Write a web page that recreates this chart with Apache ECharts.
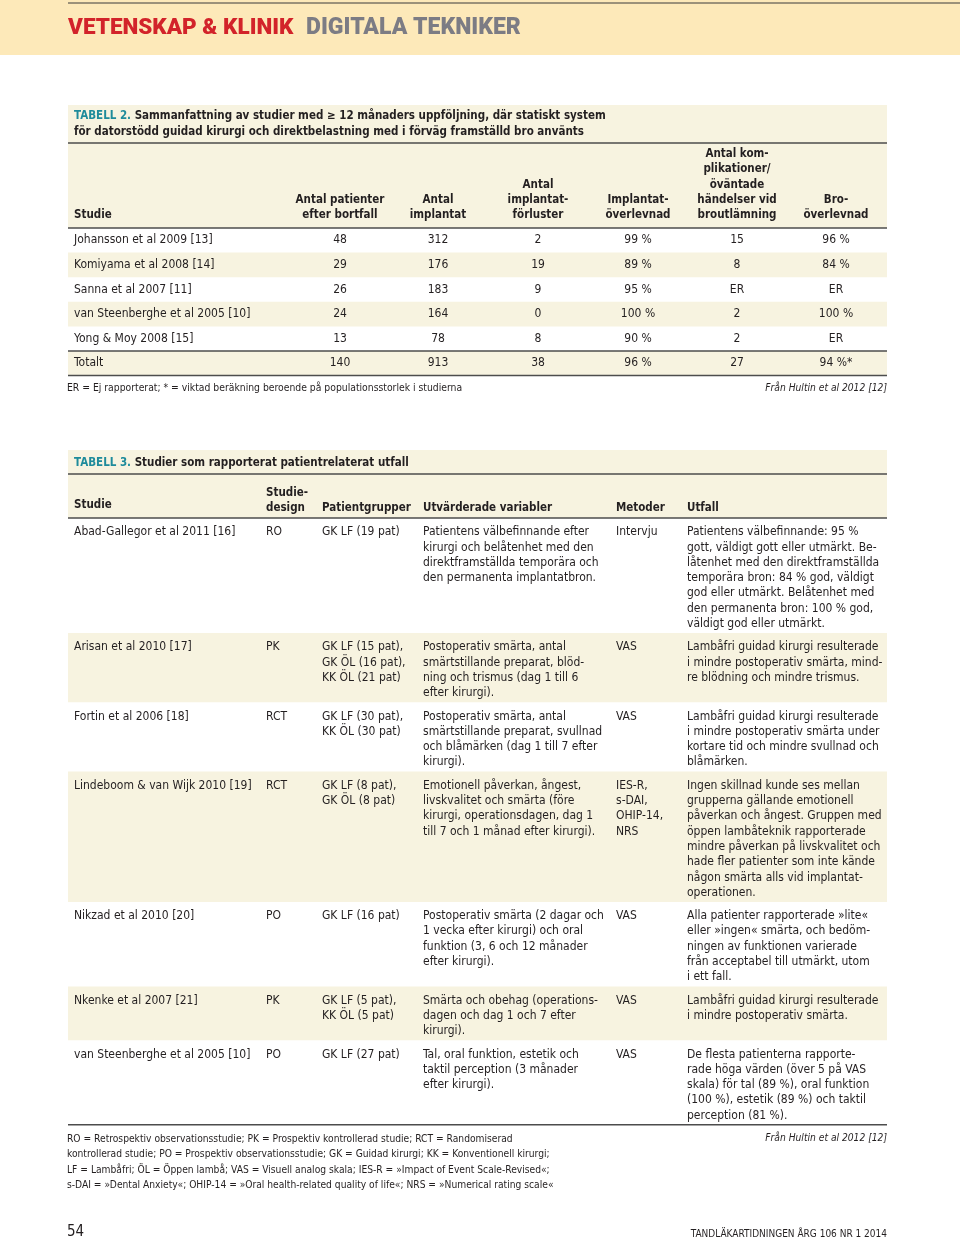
<!DOCTYPE html>
<html>
<head>
<meta charset="utf-8">
<script src="https://cdn.jsdelivr.net/npm/echarts@6/dist/echarts.min.js"></script>
<style>
  html, body { margin: 0; padding: 0; background: #fff; }
  #main { width: 960px; height: 1239px; }
</style>
</head>
<body>
<div id="main"></div>
<script>
// ---- Tabell 2 ----
const headers2 = ['Studie', 'Antal patienter\nefter bortfall', 'Antal\nimplantat', 'Antal\nimplantat-\nförluster',
  'Implantat-\növerlevnad', 'Antal kom-\nplikationer/\növäntade\nhändelser vid\nbroutlämning', 'Bro-\növerlevnad'];
const studies2 = ['Johansson et al 2009 [13]', 'Komiyama et al 2008 [14]', 'Sanna et al 2007 [11]',
  'van Steenberghe et al 2005 [10]', 'Yong & Moy 2008 [15]'];
const patients = [48, 29, 26, 24, 13];
const implants = [312, 176, 183, 164, 78];
const losses = [2, 19, 9, 0, 8];
const implantSurvival = ['99 %', '89 %', '95 %', '100 %', '90 %'];
const complications = ['15', '8', 'ER', '2', '2'];
const bridgeSurvival = ['96 %', '84 %', 'ER', '100 %', 'ER'];
const totals2 = ['Totalt', '140', '913', '38', '96 %', '27', '94 %*'];

// ---- Tabell 3 ----
const headers3 = ['Studie', 'Studie-\ndesign', 'Patientgrupper', 'Utvärderade variabler', 'Metoder', 'Utfall'];
const studies3 = ['Abad-Gallegor et al 2011 [16]', 'Arisan et al 2010 [17]', 'Fortin et al 2006 [18]',
  'Lindeboom & van Wijk 2010 [19]', 'Nikzad et al 2010 [20]', 'Nkenke et al 2007 [21]', 'van Steenberghe et al 2005 [10]'];
const designs = ['RO', 'PK', 'RCT', 'RCT', 'PO', 'PK', 'PO'];
const groups = ['GK LF (19 pat)', 'GK LF (15 pat),\nGK ÖL (16 pat),\nKK ÖL (21 pat)', 'GK LF (30 pat),\nKK ÖL (30 pat)',
  'GK LF (8 pat),\nGK ÖL (8 pat)', 'GK LF (16 pat)', 'GK LF (5 pat),\nKK ÖL (5 pat)', 'GK LF (27 pat)'];
const variables = [
  'Patientens välbefinnande efter\nkirurgi och belåtenhet med den\ndirektframställda temporära och\nden permanenta implantatbron.',
  'Postoperativ smärta, antal\nsmärtstillande preparat, blöd-\nning och trismus (dag 1 till 6\nefter kirurgi).',
  'Postoperativ smärta, antal\nsmärtstillande preparat, svullnad\noch blåmärken (dag 1 till 7 efter\nkirurgi).',
  'Emotionell påverkan, ångest,\nlivskvalitet och smärta (före\nkirurgi, operationsdagen, dag 1\ntill 7 och 1 månad efter kirurgi).',
  'Postoperativ smärta (2 dagar och\n1 vecka efter kirurgi) och oral\nfunktion (3, 6 och 12 månader\nefter kirurgi).',
  'Smärta och obehag (operations-\ndagen och dag 1 och 7 efter\nkirurgi).',
  'Tal, oral funktion, estetik och\ntaktil perception (3 månader\nefter kirurgi).'
];
const methods = ['Intervju', 'VAS', 'VAS', 'IES-R,\ns-DAI,\nOHIP-14,\nNRS', 'VAS', 'VAS', 'VAS'];
const outcomes = [
  'Patientens välbefinnande: 95 %\ngott, väldigt gott eller utmärkt. Be-\nlåtenhet med den direktframställda\ntemporära bron: 84 % god, väldigt\ngod eller utmärkt. Belåtenhet med\nden permanenta bron: 100 % god,\nväldigt god eller utmärkt.',
  'Lambåfri guidad kirurgi resulterade\ni mindre postoperativ smärta, mind-\nre blödning och mindre trismus.',
  'Lambåfri guidad kirurgi resulterade\ni mindre postoperativ smärta under\nkortare tid och mindre svullnad och\nblåmärken.',
  'Ingen skillnad kunde ses mellan\ngrupperna gällande emotionell\npåverkan och ångest. Gruppen med\nöppen lambåteknik rapporterade\nmindre påverkan på livskvalitet och\nhade fler patienter som inte kände\nnågon smärta alls vid implantat-\noperationen.',
  'Alla patienter rapporterade »lite«\neller »ingen« smärta, och bedöm-\nningen av funktionen varierade\nfrån acceptabel till utmärkt, utom\ni ett fall.',
  'Lambåfri guidad kirurgi resulterade\ni mindre postoperativ smärta.',
  'De flesta patienterna rapporte-\nrade höga värden (över 5 på VAS\nskala) för tal (89 %), oral funktion\n(100 %), estetik (89 %) och taktil\nperception (81 %).'
];
const footnotes3 = [
  'RO = Retrospektiv observationsstudie; PK = Prospektiv kontrollerad studie; RCT = Randomiserad',
  'kontrollerad studie; PO = Prospektiv observationsstudie; GK = Guidad kirurgi; KK = Konventionell kirurgi;',
  'LF = Lambåfri; ÖL = Öppen lambå; VAS = Visuell analog skala; IES-R = »Impact of Event Scale-Revised«;',
  's-DAI = »Dental Anxiety«; OHIP-14 = »Oral health-related quality of life«; NRS = »Numerical rating scale«'
];

const FONT = "'Liberation Sans Narrow','DejaVu Sans Condensed','Liberation Sans',sans-serif";
const BOLD = 'bold 11.5px ' + FONT;
const INK = '#231f20';
const CREAM = '#f7f3e0';
const LINE = '#4d4d4d';
const L = 68, R = 887;

let g = [];
function rect(x, y, w, h, fill) {
  g.push({ type: 'rect', silent: true, shape: { x: x, y: y, width: w, height: h }, style: { fill: fill } });
}
function hline(y, x1, x2, w, c) {
  g.push({ type: 'line', silent: true, shape: { x1: x1 || L, y1: y, x2: x2 || R, y2: y },
    style: { stroke: c || LINE, lineWidth: w || 1.5 } });
}
function text(x, y, s, opt) {
  opt = opt || {};
  g.push({ type: 'text', silent: true, x: x, y: y, style: Object.assign({
    text: s, fill: INK, font: '12px ' + FONT, align: 'left', verticalAlign: 'middle', lineHeight: 15.3
  }, opt) });
}

// page header
rect(0, 0, 960, 55, '#fde9b9');
hline(3, 68, 960, 1, '#3a3a3a');
text(68, 28, 'VETENSKAP & KLINIK', { fill: '#d2232a', font: '900 22.5px Roboto, sans-serif' });
text(306, 28, 'DIGITALA TEKNIKER', { fill: '#7c7c84', font: '900 23px Roboto, sans-serif' });

// ---- Tabell 2 layout ----
const cols2 = [74, 340, 438, 538, 638, 737, 836];
rect(L, 105, R - L, 123, CREAM);
text(74, 124, '{t|TABELL 2.} Sammanfattning av studier med ≥ 12 månaders uppföljning, där statiskt system\nför datorstödd guidad kirurgi och direktbelastning med i förväg framställd bro använts', {
  font: BOLD,
  rich: { t: { fill: '#1e8b9b', font: BOLD } }
});
hline(143);
headers2.forEach(function (h, i) {
  text(cols2[i], 223, h, { font: BOLD, align: i === 0 ? 'left' : 'center', verticalAlign: 'bottom' });
});
hline(228);
const rowH2 = 24.6;
const rows2 = studies2.map(function (s, i) {
  return [s, String(patients[i]), String(implants[i]), String(losses[i]), implantSurvival[i], complications[i], bridgeSurvival[i]];
});
rows2.push(totals2);
rows2.forEach(function (row, r) {
  const top = 228 + r * rowH2;
  if (r % 2 === 1) rect(L, top, R - L, rowH2, CREAM);
  row.forEach(function (v, i) {
    text(cols2[i], top + rowH2 / 2, v, { align: i === 0 ? 'left' : 'center' });
  });
});
hline(228 + 5 * rowH2);
hline(228 + 6 * rowH2);
text(67, 388, 'ER = Ej rapporterat; * = viktad beräkning beroende på populationsstorlek i studierna', { font: '10.3px ' + FONT });
text(R, 388, 'Från Hultin et al 2012 [12]', { font: 'italic 10.2px ' + FONT, align: 'right' });

// ---- Tabell 3 layout ----
const cols3 = [74, 266, 322, 423, 616, 687];
rect(L, 450, R - L, 68, CREAM);
text(74, 463, '{t|TABELL 3.} Studier som rapporterat patientrelaterat utfall', {
  font: BOLD,
  rich: { t: { fill: '#1e8b9b', font: BOLD } }
});
hline(474);
headers3.forEach(function (h, i) {
  text(cols3[i], i === 0 ? 513 : 516, h, { font: BOLD, verticalAlign: 'bottom' });
});
hline(518);
let top3 = 518;
studies3.forEach(function (s, r) {
  const cells = [s, designs[r], groups[r], variables[r], methods[r], outcomes[r]];
  const nLines = Math.max.apply(null, cells.map(function (c) { return c.split('\n').length; }));
  const h = nLines * 15.3 + 8;
  if (r % 2 === 1) rect(L, top3, R - L, h, CREAM);
  cells.forEach(function (c, i) {
    text(cols3[i], top3 + 6.5, c, { verticalAlign: 'top' });
  });
  top3 += h;
});
hline(top3);
footnotes3.forEach(function (f, i) {
  text(67, 1139 + i * 15.6, f, { font: '10.2px ' + FONT });
});
text(R, 1138, 'Från Hultin et al 2012 [12]', { font: 'italic 10.2px ' + FONT, align: 'right' });

// page footer
text(67, 1232, '54', { font: '15px ' + FONT });
text(R, 1234, 'TANDLÄKARTIDNINGEN ÅRG 106 NR 1 2014', { font: '10px ' + FONT, align: 'right' });

const chart = echarts.init(document.getElementById('main'), null, { renderer: 'canvas' });
chart.setOption({
  backgroundColor: '#ffffff',
  animation: false,
  graphic: { elements: g }
});
</script>
</body>
</html>
